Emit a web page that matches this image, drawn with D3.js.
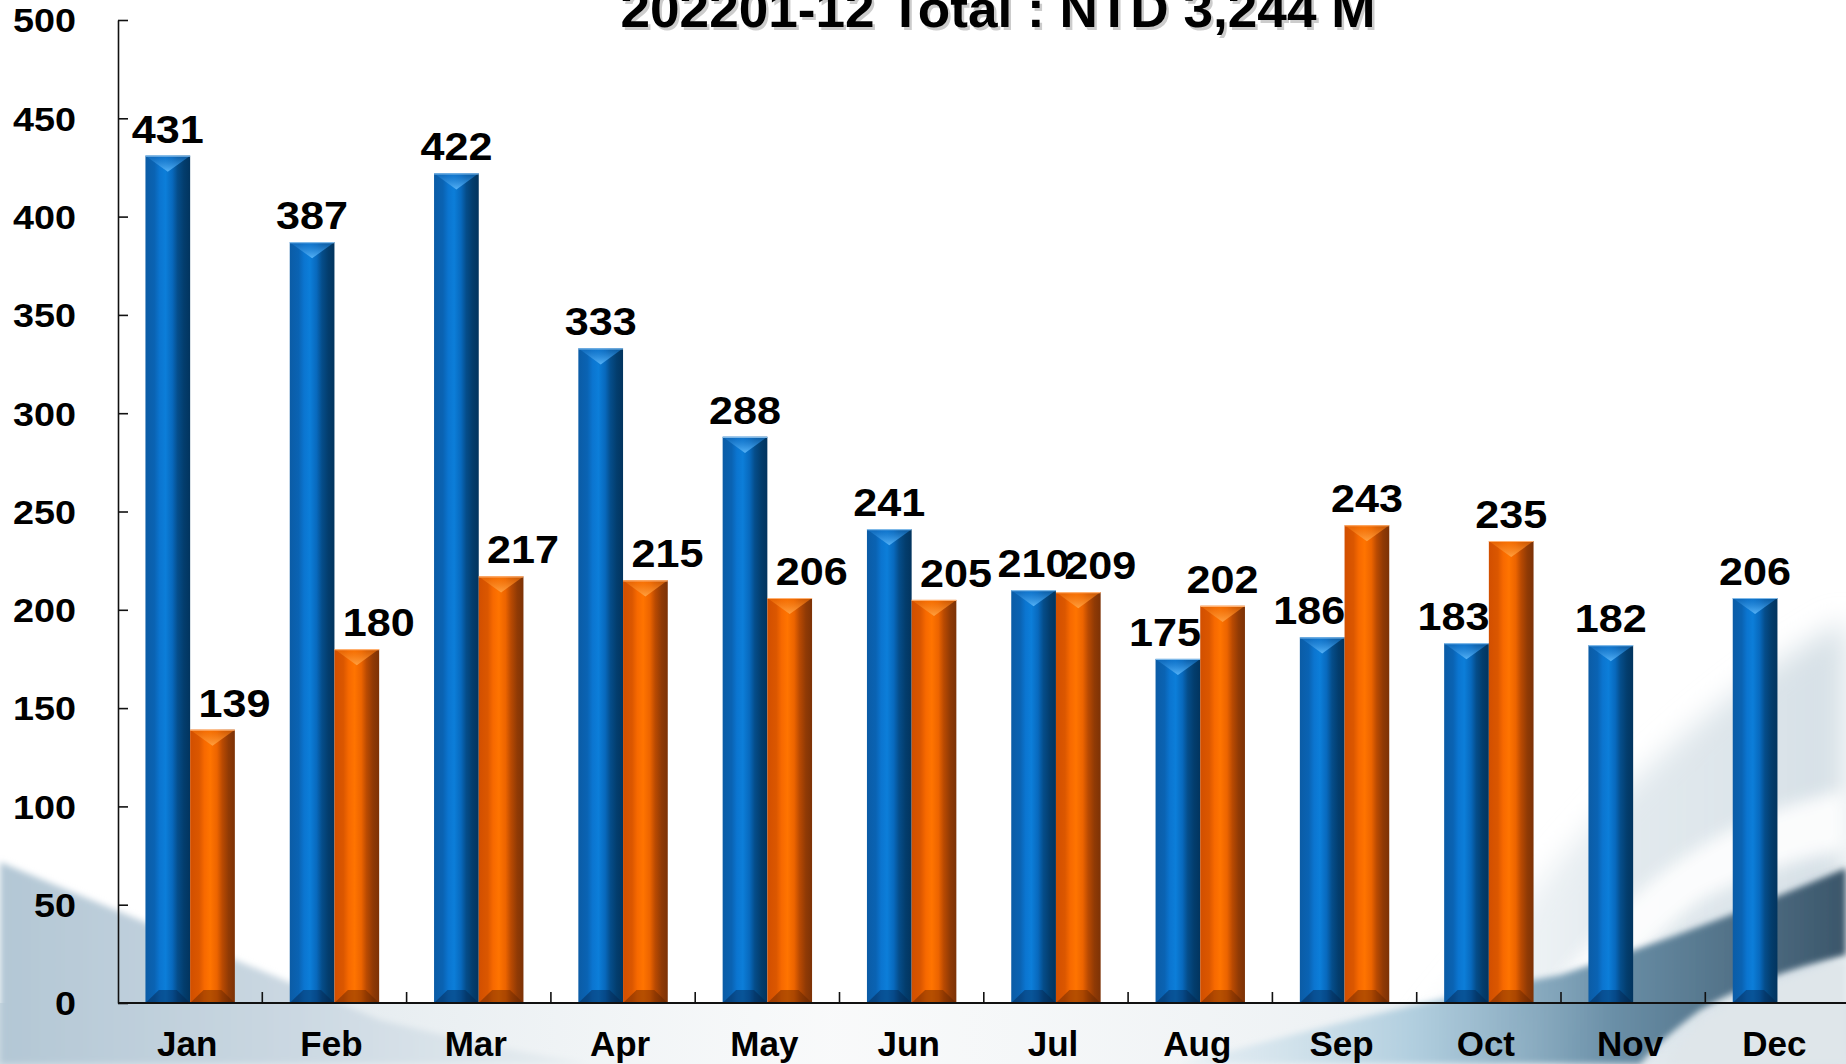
<!DOCTYPE html>
<html>
<head>
<meta charset="utf-8">
<script src="https://cdn.jsdelivr.net/npm/d3@7/dist/d3.min.js"></script>
<style>
  html, body { margin: 0; padding: 0; background: #ffffff; overflow: hidden; }
  svg { display: block; }
  text { font-family: "Liberation Sans", Arial, Helvetica, sans-serif; font-weight: bold; fill: #000; }
</style>
</head>
<body>
<svg id="chart" width="1846" height="1064"></svg>
<script>
// ---------- data ----------
const titleText = "202201-12 Total : NTD 3,244 M";
const months = ["Jan","Feb","Mar","Apr","May","Jun","Jul","Aug","Sep","Oct","Nov","Dec"];
const seriesKeys = ["prev","curr"];
const prevYear = [431, 387, 422, 333, 288, 241, 210, 175, 186, 183, 182, 206];
const currYear = [139, 180, 217, 215, 206, 205, 209, 202, 243, 235, null, null];
const yTicks = [0, 50, 100, 150, 200, 250, 300, 350, 400, 450, 500];

const W = 1846, H = 1064;
const svg = d3.select("#chart");
const defs = svg.append("defs");

// ---------- gradients / filters ----------
function hGrad(id, stops) {
  const g = defs.append("linearGradient").attr("id", id).attr("x1", 0).attr("x2", 1).attr("y1", 0).attr("y2", 0);
  stops.forEach(s => g.append("stop").attr("offset", s[0]).attr("stop-color", s[1]).attr("stop-opacity", s[2] == null ? 1 : s[2]));
}
function vGrad(id, stops) {
  const g = defs.append("linearGradient").attr("id", id).attr("x1", 0).attr("x2", 0).attr("y1", 0).attr("y2", 1);
  stops.forEach(s => g.append("stop").attr("offset", s[0]).attr("stop-color", s[1]).attr("stop-opacity", s[2] == null ? 1 : s[2]));
}
hGrad("gBlue", [[0,"#0b5ca6"],[0.2,"#0a63b3"],[0.32,"#0b75d0"],[0.45,"#0c7ed9"],[0.6,"#0869bd"],[0.72,"#054d8a"],[0.86,"#033d6d"],[1,"#02345e"]]);
hGrad("gOrange", [[0,"#d24f00"],[0.2,"#db5700"],[0.32,"#f76900"],[0.45,"#ff7400"],[0.6,"#ec6400"],[0.72,"#b94a02"],[0.86,"#903a05"],[1,"#7c3206"]]);
vGrad("gBlueTop", [[0,"#0d6cc2",0.6],[1,"#55b2f7",1]]);
vGrad("gOrangeTop", [[0,"#f06a00",0.6],[1,"#ffa040",1]]);

hGrad("bgLeft", [[0,"#b3c7d5"],[0.5,"#cbd8e2"],[1,"#e8eef1"]]);
hGrad("bgStripH", [[0,"#d3dfe6",1],[0.45,"#f4f6f7",0.6],[1,"#dfe7ec",1]]);
hGrad("bandDark", [[0,"#c4dcea",0.25],[0.35,"#a3c6da",0.8],[0.65,"#6a8fa7",1],[1,"#3b566a",1]]);
hGrad("haze", [[0,"#e4ebef",0],[0.5,"#e0e8ed",0.9],[1,"#d6e0e6",1]]);

defs.append("filter").attr("id","blur8").attr("x","-20%").attr("y","-20%").attr("width","140%").attr("height","140%")
  .append("feGaussianBlur").attr("stdDeviation", 8);
defs.append("filter").attr("id","blur3").attr("x","-20%").attr("y","-20%").attr("width","140%").attr("height","140%")
  .append("feGaussianBlur").attr("stdDeviation", 3);
defs.append("filter").attr("id","blur14").attr("x","-20%").attr("y","-20%").attr("width","140%").attr("height","140%")
  .append("feGaussianBlur").attr("stdDeviation", 14);

// ---------- scales ----------
const x0 = 118, xEnd = 118 + 12 * 144.3;
const x = d3.scaleBand().domain(months).range([x0, xEnd]).paddingInner(0).paddingOuter(0);
const xs = d3.scaleBand().domain(seriesKeys).range([0, x.bandwidth()]).paddingInner(0).paddingOuter(0.614);
const y = d3.scaleLinear().domain([0, 500]).range([1003, 20]);

// ---------- background decoration ----------
const bg = svg.append("g");
bg.append("rect").attr("x", 0).attr("y", y(0)).attr("width", W).attr("height", H - y(0)).attr("fill", "url(#bgStripH)");
bg.append("path").attr("d", "M0,862 L380,1020 Q480,1045 590,1064 L0,1064 Z").attr("fill", "url(#bgLeft)").attr("filter","url(#blur3)");
bg.append("path").attr("d", "M1846,620 Q1700,700 1560,860 Q1460,980 1380,1064 L1846,1064 Z").attr("fill", "url(#haze)").attr("filter","url(#blur14)");
bg.append("path").attr("d", "M1846,790 Q1700,820 1600,930 Q1540,1000 1500,1064 L1560,1064 Q1620,960 1700,900 Q1780,860 1846,850 Z").attr("fill", "#ffffff").attr("opacity",0.9).attr("filter","url(#blur8)");
bg.append("path").attr("d", "M1180,1064 Q1420,1000 1560,975 Q1700,930 1846,868 L1846,955 Q1760,975 1700,1010 Q1660,1040 1640,1064 Z").attr("fill", "url(#bandDark)").attr("filter","url(#blur3)");
bg.append("path").attr("d", "M1846,960 Q1760,985 1705,1020 Q1680,1045 1665,1064 L1846,1064 Z").attr("fill", "#dfe6ea").attr("filter","url(#blur3)");

// ---------- bars ----------
const data = months.map((m, i) => ({ m, i, vals: [
  { key: "prev", v: prevYear[i], grad: "gBlue", top: "gBlueTop", bottom: "rgba(5,35,75,0.45)" },
  { key: "curr", v: currYear[i], grad: "gOrange", top: "gOrangeTop", bottom: "rgba(95,35,0,0.45)" }
].filter(d => d.v != null) }));

const gBars = svg.append("g");
data.forEach(d => {
  d.vals.forEach(s => {
    const bx = x(d.m) + xs(s.key), bw = xs.bandwidth();
    const top = y(s.v), bot = y(0);
    const g = gBars.append("g");
    g.append("rect").attr("x", bx).attr("y", top).attr("width", bw).attr("height", bot - top).attr("fill", `url(#${s.grad})`);
    const depth = bw * 0.36;
    g.append("path").attr("d", `M${bx},${top} L${bx + bw},${top} L${bx + bw/2},${top + depth} Z`).attr("fill", `url(#${s.top})`);
    g.append("line").attr("x1", bx).attr("x2", bx + bw).attr("y1", top + 0.5).attr("y2", top + 0.5)
      .attr("stroke", s.key === "prev" ? "#7fb9e8" : "#ffb070").attr("stroke-width", 1.2);
    const bh = 13;
    g.append("path").attr("d", `M${bx},${bot} L${bx + bw*0.3},${bot - bh} L${bx + bw*0.7},${bot - bh} L${bx + bw},${bot} Z`).attr("fill", s.bottom);
  });
});

// ---------- axes ----------
const yAxis = d3.axisLeft(y).tickValues(yTicks).tickSize(-10).tickSizeOuter(0).tickPadding(42).tickFormat(d3.format("d"));
const gy = svg.append("g").attr("transform", `translate(${x0},0)`).call(yAxis);
gy.select(".domain").attr("stroke", "#111").attr("stroke-width", 1.6);
gy.selectAll(".tick line").attr("stroke", "#111").attr("stroke-width", 1.6);
gy.selectAll(".tick text")
  .attr("font-size", 33).attr("fill", "#000").attr("dy", "0.36em")
  .attr("font-family", "Liberation Sans, Arial, sans-serif").attr("font-weight", "bold")
  .attr("textLength", d => String(d).length * 21).attr("lengthAdjust", "spacingAndGlyphs");

svg.append("line").attr("x1", x0).attr("x2", W).attr("y1", y(0)).attr("y2", y(0)).attr("stroke", "#111").attr("stroke-width", 1.8);
svg.append("g").selectAll("line").data(months.slice(1)).join("line")
  .attr("x1", m => x(m)).attr("x2", m => x(m))
  .attr("y1", y(0)).attr("y2", y(0) - 11).attr("stroke", "#111").attr("stroke-width", 1.6);
const xAxis = d3.axisBottom(x).tickSize(0).tickPadding(0);
const gx = svg.append("g").attr("transform", `translate(0,${y(0)})`).call(xAxis);
gx.select(".domain").remove();
gx.selectAll(".tick text").attr("y", 53).attr("dy", 0).attr("x", -3)
  .attr("font-size", 35).attr("fill", "#000")
  .attr("font-family", "Liberation Sans, Arial, sans-serif").attr("font-weight", "bold");

// ---------- value labels ----------
const gLab = svg.append("g");
data.forEach(d => {
  const b = prevYear[d.i], c = currYear[d.i];
  d.vals.forEach(s => {
    const cx = x(d.m) + xs(s.key) + xs.bandwidth() / 2;
    let shift = 0;
    if (b != null && c != null) {
      if (s.key === "curr" && c <= b) shift = 22;
      if (s.key === "prev" && b < c) shift = -13;
    }
    gLab.append("text")
      .attr("x", cx + shift).attr("y", y(s.v) - 13)
      .attr("text-anchor", "middle").attr("font-size", 39)
      .attr("textLength", String(s.v).length * 24).attr("lengthAdjust", "spacingAndGlyphs")
      .text(s.v);
  });
});

// ---------- title ----------
const tx = 998, ty = 27;
svg.append("text").attr("x", tx + 2.5).attr("y", ty + 2.5).attr("text-anchor", "middle")
  .attr("font-size", 52).attr("textLength", 755).attr("lengthAdjust", "spacingAndGlyphs")
  .style("fill", "#9a9a9a").attr("opacity", 0.5).text(titleText);
svg.append("text").attr("x", tx).attr("y", ty).attr("text-anchor", "middle")
  .attr("font-size", 52).attr("textLength", 755).attr("lengthAdjust", "spacingAndGlyphs")
  .text(titleText);
</script>
</body>
</html>
